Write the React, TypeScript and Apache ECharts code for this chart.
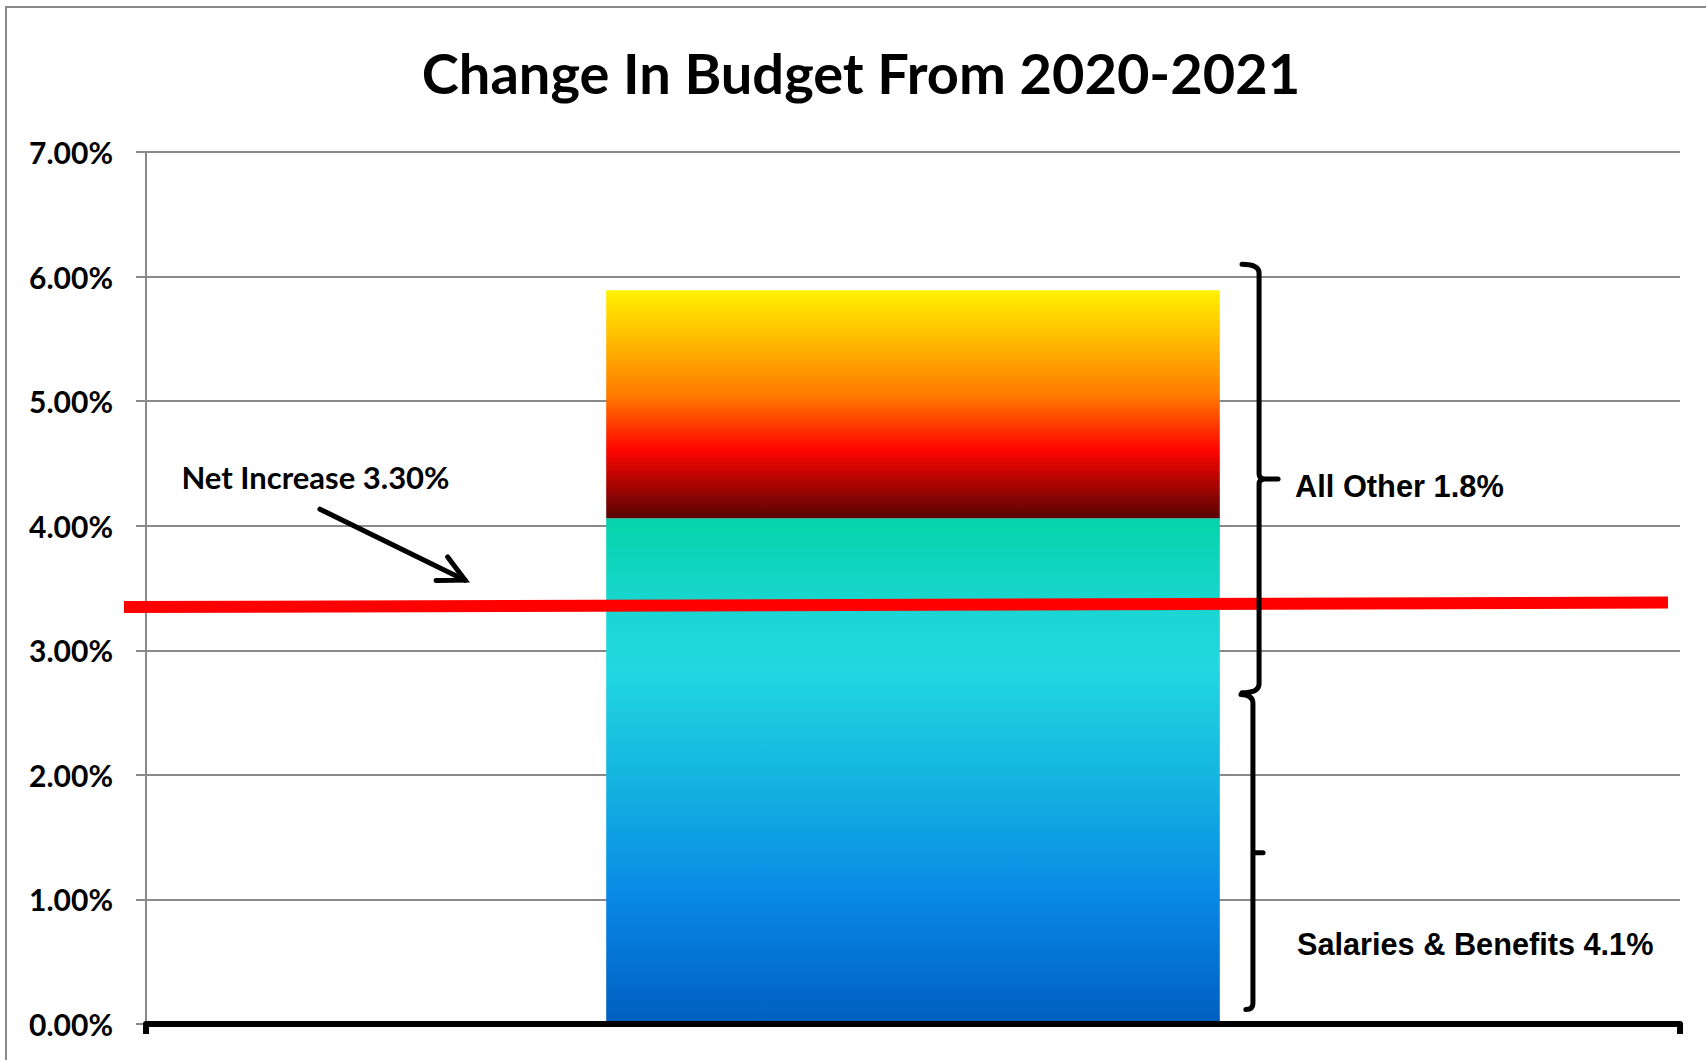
import React, { useEffect, useRef } from "react";
import * as echarts from "echarts";

// ---- data ----
const categories = ["2020-2021"];
const salariesBenefits = [4.06];
const allOther = [1.83];
const yMin = 0;
const yMax = 7;
const yInterval = 1;
// net increase line (x on a 0..1 helper axis of a wider helper grid, y in %)
const netLineX = [0.0152, 0.9924];
const netLineY = [3.347, 3.383];

const titleText = "Change In Budget From 2020-2021";
const netLabel = "Net Increase 3.30%";
const allOtherLabel = "All Other 1.8%";
const salariesLabel = "Salaries & Benefits 4.1%";

export default function App() {
  const ref = useRef<HTMLDivElement | null>(null);
  useEffect(() => {
    if (!ref.current) return;
    const chart = echarts.init(ref.current, null, { renderer: "svg" });
    const gridColor = "#898989";
    const option: any = {
      animation: false,
      backgroundColor: "#ffffff",
      grid: [
        { left: 146, right: 26, top: 152, bottom: 36, containLabel: false },
        { left: 100, right: 26, top: 152, bottom: 36, containLabel: false },
      ],
      xAxis: [
        {
          type: "category",
          gridIndex: 0,
          data: categories,
          boundaryGap: true,
          axisLine: { show: true, lineStyle: { color: "#000", width: 6 } },
          axisTick: { show: true, length: 10, lineStyle: { color: "#000", width: 6 } },
          axisLabel: { show: false },
          splitLine: { show: false },
          z: 5,
        },
        { type: "value", gridIndex: 0, min: 0, max: 1, show: false },
        { type: "value", gridIndex: 1, min: 0, max: 1, show: false },
      ],
      yAxis: [
        {
          type: "value",
          gridIndex: 0,
          min: yMin,
          max: yMax,
          interval: yInterval,
          axisLine: { show: true, lineStyle: { color: gridColor, width: 2 } },
          axisTick: { show: true, length: 10, lineStyle: { color: gridColor, width: 2 } },
          splitLine: { show: true, lineStyle: { color: gridColor, width: 2 } },
          axisLabel: {
            margin: 33,
            color: "#000",
            fontFamily: "Lato",
            fontWeight: "bold",
            fontSize: 30,
            formatter: (v: number) => v.toFixed(2) + "%",
          },
        },
        { type: "value", gridIndex: 1, min: yMin, max: yMax, interval: yInterval, show: false },
      ],
      series: [
        {
          name: "Salaries & Benefits",
          type: "bar",
          stack: "total",
          barWidth: "40%",
          data: salariesBenefits,
          itemStyle: {
            color: new echarts.graphic.LinearGradient(0, 0, 0, 1, [
              { offset: 0, color: "#05D3AA" },
              { offset: 0.18, color: "#1AD6D2" },
              { offset: 0.3, color: "#22D7E0" },
              { offset: 0.55, color: "#12AEE0" },
              { offset: 0.75, color: "#0888E6" },
              { offset: 1, color: "#005EC0" },
            ]),
          },
        },
        {
          name: "All Other",
          type: "bar",
          stack: "total",
          barWidth: "40%",
          data: allOther,
          itemStyle: {
            color: new echarts.graphic.LinearGradient(0, 0, 0, 1, [
              { offset: 0, color: "#FFF200" },
              { offset: 0.3, color: "#FFA500" },
              { offset: 0.46, color: "#FF7A00" },
              { offset: 0.7, color: "#FF0500" },
              { offset: 1, color: "#560404" },
            ]),
          },
        },
        {
          name: "Net Increase",
          type: "line",
          xAxisIndex: 2,
          yAxisIndex: 1,
          data: netLineX.map((x, i) => [x, netLineY[i]]),
          showSymbol: false,
          symbol: "none",
          clip: false,
          z: 10,
          lineStyle: { color: "#FF0000", width: 12, cap: "butt" },
        },
        {
          name: "helper",
          type: "scatter",
          xAxisIndex: 1,
          yAxisIndex: 0,
          data: [],
          silent: true,
        },
      ],
    };
    chart.setOption(option);

    const px = (x: number, y: number) =>
      chart.convertToPixel({ seriesIndex: 3 }, [x, y]) as number[];

    // Upper brace (All Other)
    const ub = {
      v: px(0.7256, 6.098),
      l: px(0.7145, 6.098),
      tip: px(0.738, 4.375),
      bot: px(0.7256, 2.659),
    };
    const V = ub.v[0], L = ub.l[0], yt = ub.v[1], ym = ub.tip[1], yb = ub.bot[1], T = ub.tip[0];
    const r = 9;
    const d1 =
      `M ${L} ${yt} Q ${V} ${yt} ${V} ${yt + r} L ${V} ${ym - 5} Q ${V} ${ym} ${V + 6} ${ym} L ${T} ${ym} ` +
      `M ${V + 6} ${ym} Q ${V} ${ym} ${V} ${ym + 5} L ${V} ${yb - r} Q ${V} ${yb} ${L} ${yb}`;
    // Lower brace (Salaries)
    const lbTop = px(0.7216, 2.645);
    const lbLeft = px(0.7138, 2.645);
    const lbBot = px(0.7216, 0.1155);
    const lbBotL = px(0.717, 0.1155);
    const lbTip = px(0.7282, 1.375);
    const V2 = lbTop[0];
    const d2 =
      `M ${lbLeft[0]} ${lbTop[1]} Q ${V2} ${lbTop[1]} ${V2} ${lbTop[1] + r} L ${V2} ${lbBot[1] - 6} Q ${V2} ${lbBot[1]} ${lbBotL[0]} ${lbBot[1]} ` +
      `M ${V2} ${lbTip[1] + 3} L ${V2} ${lbTip[1]} L ${lbTip[0]} ${lbTip[1]}`;
    echarts.graphic.registerShape("braceUpper", echarts.graphic.extendPath(d1, {}) as any);
    echarts.graphic.registerShape("braceLower", echarts.graphic.extendPath(d2, {}) as any);

    // Arrow
    const tail = px(0.1134, 4.133);
    const tip = px(0.208, 3.563);
    const ang = Math.atan2(tip[1] - tail[1], tip[0] - tail[0]) + Math.PI;
    const armLen = 29;
    const spread = (27 * Math.PI) / 180;
    const a1 = [tip[0] + armLen * Math.cos(ang - spread), tip[1] + armLen * Math.sin(ang - spread)];
    const a2 = [tip[0] + armLen * Math.cos(ang + spread), tip[1] + armLen * Math.sin(ang + spread)];

    const netPos = px(0.0231, 4.394);
    const allPos = px(0.749, 4.318);
    const salPos = px(0.7503, 0.637);

    chart.setOption({
      graphic: [
        {
          type: "rect",
          z: 0,
          silent: true,
          shape: { x: 6, y: 7, width: 1800, height: 1200 },
          style: { fill: "none", stroke: "#898989", lineWidth: 2 },
        },
        {
          type: "text",
          z: 100,
          x: 861,
          y: 72,
          style: {
            text: titleText,
            font: "bold 56px Lato",
            fill: "#000",
            align: "center",
            verticalAlign: "middle",
          },
        },
        {
          type: "braceUpper",
          z: 100,
          style: { stroke: "#000", lineWidth: 5, fill: "none", lineCap: "round", lineJoin: "round" },
        },
        {
          type: "braceLower",
          z: 100,
          style: { stroke: "#000", lineWidth: 5, fill: "none", lineCap: "round", lineJoin: "round" },
        },
        {
          type: "line",
          z: 100,
          shape: { x1: tail[0], y1: tail[1], x2: tip[0], y2: tip[1] },
          style: { stroke: "#000", lineWidth: 5, lineCap: "round" },
        },
        {
          type: "polyline",
          z: 100,
          shape: { points: [a1, tip, a2] },
          style: { stroke: "#000", lineWidth: 5, fill: "none", lineCap: "round", lineJoin: "miter" },
        },
        {
          type: "text",
          z: 100,
          x: netPos[0],
          y: netPos[1],
          style: {
            text: netLabel,
            font: "bold 31px Lato",
            fill: "#000",
            align: "left",
            verticalAlign: "middle",
          },
        },
        {
          type: "text",
          z: 100,
          x: allPos[0],
          y: allPos[1],
          style: {
            text: allOtherLabel,
            font: "bold 30.8px 'Liberation Sans'",
            fill: "#000",
            align: "left",
            verticalAlign: "middle",
          },
        },
        {
          type: "text",
          z: 100,
          x: salPos[0],
          y: salPos[1],
          style: {
            text: salariesLabel,
            font: "bold 30.7px 'Liberation Sans'",
            fill: "#000",
            align: "left",
            verticalAlign: "middle",
          },
        },
      ],
    });

    return () => chart.dispose();
  }, []);

  return (
    <div
      ref={ref}
      style={{ position: "absolute", left: 0, top: 0, width: 1706, height: 1060 }}
    />
  );
}
